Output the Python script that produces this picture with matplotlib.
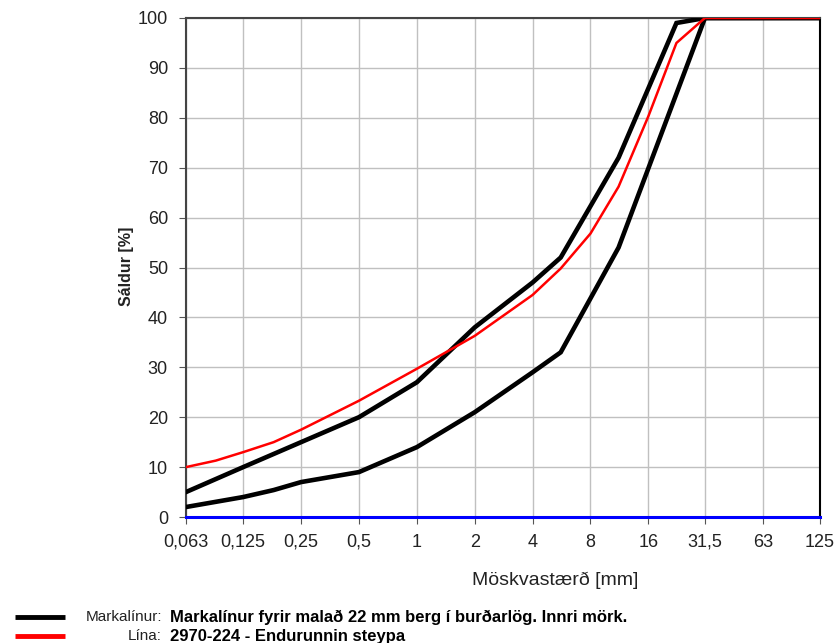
import matplotlib
matplotlib.use("Agg")
import matplotlib.pyplot as plt
from matplotlib.lines import Line2D

plt.rcParams['font.family'] = ['Liberation Sans', 'DejaVu Sans']

# Sieve sizes (mm)
tick_values = [0.063, 0.125, 0.25, 0.5, 1, 2, 4, 8, 16, 31.5, 63, 125]
tick_labels = ["0,063", "0,125", "0,25", "0,5", "1", "2", "4", "8", "16", "31,5", "63", "125"]

# Lower limit curve
lower_x = [0.063, 0.125, 0.18, 0.25, 0.5, 1, 2, 4, 5.6, 11.2, 31.5, 63, 125]
lower_y = [2, 4, 5.4, 7, 9, 14, 21, 29, 33, 54, 100, 100, 100]

# Upper limit curve
upper_x = [0.063, 0.125, 0.25, 0.5, 1, 2, 4, 5.6, 11.2, 22.4, 31.5, 63, 125]
upper_y = [5, 10, 15, 20, 27, 38, 47, 52, 72, 99, 100, 100, 100]

# Sample curve
sample_x = [0.063, 0.09, 0.125, 0.18, 0.25, 0.5, 1, 2, 4, 5.6, 8, 11.2, 16, 22.4, 31.5, 63, 125]
sample_y = [10, 11.3, 13, 15, 17.5, 23.3, 29.7, 36.3, 44.5, 49.8, 56.8, 66.2, 80.3, 95, 100, 100, 100]

# Zero line
zero_x = [0.063, 125]
zero_y = [0, 0]

fig = plt.figure(figsize=(8.39, 6.43), dpi=100)
ax = fig.add_axes([186/839, 1-517/643, (820-186)/839, (517-18)/643])

ax.set_xscale('log', base=2)
ax.set_xlim(0.063, 125)
ax.set_ylim(0, 100)

ax.plot(zero_x, zero_y, color='#0000ff', lw=2.2, clip_on=False, zorder=5)
ax.plot(lower_x, lower_y, color='black', lw=3.3, zorder=3, solid_joinstyle='miter')
ax.plot(upper_x, upper_y, color='black', lw=3.3, zorder=3, solid_joinstyle='miter')
ax.plot(sample_x, sample_y, color='#ff0000', lw=1.8, zorder=4)

ax.set_xticks(tick_values)
ax.set_xticklabels(tick_labels)
ax.xaxis.set_minor_locator(matplotlib.ticker.NullLocator())
ax.set_yticks(range(0, 101, 10))
ax.tick_params(axis='both', labelsize=13, length=5, color='#555555', direction='out',
               labelcolor='#222222')
ax.tick_params(axis='x', pad=7)
ax.tick_params(axis='y', pad=8)

ax.grid(True, color='#c0c0c0', lw=1)
ax.set_axisbelow(True)
for s in ['top', 'left']:
    ax.spines[s].set_color('#444444')
    ax.spines[s].set_linewidth(1.5)
ax.spines['right'].set_color('black')
ax.spines['right'].set_linewidth(1.5)
ax.spines['bottom'].set_visible(False)

fig.text(127/839, 1-266/643, "Sáldur [%]", fontsize=11.5, fontweight='bold', rotation=90,
         ha='center', va='center', color='#222222')
fig.text(555/839, 1-580/643, "Möskvastærð [mm]", fontsize=14, ha='center', va='center',
         color='#222222')

# Legend
fig.add_artist(Line2D([15/839, 65/839], [1-617/643, 1-617/643], color='black', lw=3.5,
                      solid_capstyle='butt'))
fig.add_artist(Line2D([15/839, 65/839], [1-636/643, 1-636/643], color='#ff0000', lw=3.5,
                      solid_capstyle='butt'))
fig.text(162/839, 1-617/643, "Markalínur:", fontsize=11, ha='right', va='center',
         fontstretch='condensed', color='#222222')
fig.text(170/839, 1-617/643, "Markalínur fyrir malað 22 mm berg í burðarlög. Innri mörk.",
         fontsize=12, fontweight='bold', ha='left', va='center')
fig.text(162/839, 1-636/643, "Lína:", fontsize=11, ha='right', va='center', color='#222222')
fig.text(170/839, 1-636/643, "2970-224 - Endurunnin steypa",
         fontsize=12, fontweight='bold', ha='left', va='center')

fig.savefig("out.png", dpi=100)
